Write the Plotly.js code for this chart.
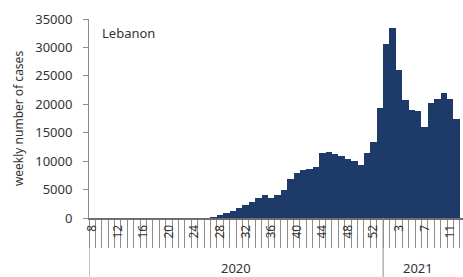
<!DOCTYPE html>
<html>
<head>
<meta charset="utf-8">
<script src="https://cdn.plot.ly/plotly-3.0.1.min.js"></script>
<style>html,body{margin:0;padding:0;background:#fff}#chart{width:463px;height:277px}</style>
</head>
<body>
<div id="chart"></div>
<script>
// Week numbers per year
const weeks2020 = [8,9,10,11,12,13,14,15,16,17,18,19,20,21,22,23,24,25,26,27,28,29,30,31,32,33,34,35,36,37,38,39,40,41,42,43,44,45,46,47,48,49,50,51,52,53];
const weeks2021 = [1,2,3,4,5,6,7,8,9,10,11,12];
// Weekly number of cases, Lebanon
const cases2020 = [1,8,30,60,70,60,50,40,30,20,30,60,70,50,30,40,50,60,80,150,
  500,800,1200,1700,2200,2800,3500,4000,3600,4000,4900,6800,7900,8400,8700,9000,
  11500,11600,11200,10900,10300,10100,9400,11500,13300,19300];
const cases2021 = [30600,33500,26000,20700,19000,18900,16000,20200,21000,21900,21000,17500];
const labeledWeeks2020 = [8,12,16,20,24,28,32,36,40,44,48,52];
const labeledWeeks2021 = [3,7,11];
const years = ["2020","2021"];
const yTicks = [0,5000,10000,15000,20000,25000,30000,35000];
const countryLabel = "Lebanon";
const yTitle = "weekly number of cases";

const xIdx = [], yVals = [], tickvals = [], ticktext = [];
weeks2020.forEach((w,i)=>{ xIdx.push(xIdx.length); yVals.push(cases2020[i]);
  if (labeledWeeks2020.includes(w)) { tickvals.push(xIdx.length-1); ticktext.push(String(w)); } });
const start2021 = xIdx.length;
weeks2021.forEach((w,i)=>{ xIdx.push(xIdx.length); yVals.push(cases2021[i]);
  if (labeledWeeks2021.includes(w)) { tickvals.push(xIdx.length-1); ticktext.push(String(w)); } });
const n = xIdx.length;

const axisColor = "#8c8c8c";
const font = "Noto Sans, Liberation Sans, sans-serif";
const bottomPaper = -59/199;

const trace = {
  type: "bar", x: xIdx, y: yVals,
  marker: {color: "#1d3a68", line: {width: 0}},
  hoverinfo: "skip"
};

const layout = {
  width: 463, height: 277,
  margin: {l: 89, r: 0, t: 19, b: 59},
  paper_bgcolor: "#ffffff", plot_bgcolor: "#ffffff",
  bargap: 0, showlegend: false,
  font: {family: font, color: "#333", size: 13},
  xaxis: {
    type: "linear", range: [-0.5, n + 0.0], fixedrange: true,
    showgrid: false, zeroline: false,
    showline: true, linecolor: "#6f6f6f", linewidth: 2,
    tickmode: "array", tickvals: tickvals, ticktext: ticktext,
    ticks: "", tickangle: -90,
    tickfont: {family: font, size: 12, color: "#333"},
    minor: {ticks: "outside", tick0: 0.5, dtick: 1, ticklen: 28, tickcolor: axisColor, tickwidth: 1, showgrid: false}
  },
  yaxis: {
    range: [0, 35000], fixedrange: true,
    tickmode: "array", tickvals: yTicks, ticktext: yTicks.map(String),
    showgrid: false, zeroline: false,
    showline: true, linecolor: axisColor, linewidth: 1,
    ticks: "outside", ticklen: 5, tickcolor: axisColor,
    ticklabelstandoff: 8,
    tickfont: {family: font, size: 13, color: "#333"},
    title: {text: yTitle, font: {family: font, size: 12, color: "#333"}, standoff: 9}
  },
  shapes: [
    {type: "line", xref: "x", yref: "paper", x0: -0.5, x1: -0.5, y0: 0, y1: bottomPaper, line: {color: axisColor, width: 1}},
    {type: "line", xref: "x", yref: "paper", x0: start2021 - 0.5, x1: start2021 - 0.5, y0: 0, y1: bottomPaper, line: {color: axisColor, width: 1}}
  ],
  annotations: [
    {text: countryLabel, xref: "paper", yref: "paper", x: 0.03, y: 0.93, xanchor: "left", yanchor: "middle", showarrow: false, font: {family: font, size: 13, color: "#333"}},
    {text: years[0], xref: "x", yref: "paper", x: (start2021 - 1) / 2, y: -0.29, yshift: -3, xanchor: "center", yanchor: "bottom", showarrow: false, font: {family: font, size: 13, color: "#333"}},
    {text: years[1], xref: "x", yref: "paper", x: start2021 - 0.5 + 5.4, y: -0.29, yshift: -3, xanchor: "center", yanchor: "bottom", showarrow: false, font: {family: font, size: 13, color: "#333"}}
  ]
};

Plotly.newPlot("chart", [trace], layout, {displayModeBar: false, staticPlot: true});
</script>
</body>
</html>
